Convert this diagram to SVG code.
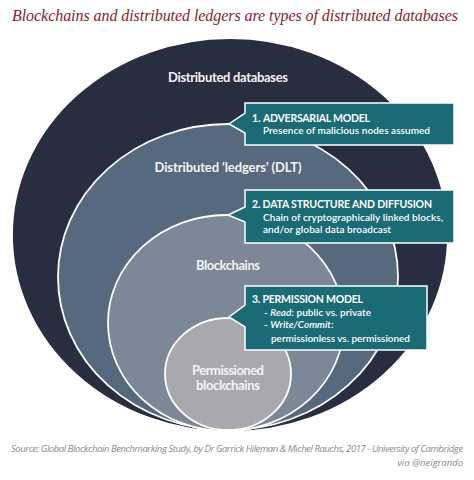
<svg xmlns="http://www.w3.org/2000/svg" width="474" height="480" viewBox="0 0 474 480">
<style>
.ring{stroke:#ffffff;stroke-width:1.8}
.lbl{font-family:Lato,"Open Sans","Liberation Sans",sans-serif;font-weight:bold;fill:#f4f4f4;text-anchor:middle}
.box{fill:#1b6b77;stroke:#ffffff;stroke-width:1.5}
.bh{font-family:Lato,"Open Sans","Liberation Sans",sans-serif;font-weight:bold;font-size:10.5px;fill:#ffffff}
.bt{font-family:Lato,"Open Sans","Liberation Sans",sans-serif;font-weight:600;font-size:10px;fill:#ffffff}
.src{font-family:"Open Sans","Liberation Sans",sans-serif;font-style:italic;font-size:9.5px;fill:#8a8a8a}
</style>
<rect width="474" height="480" fill="#ffffff"/>
<text x="12" y="21" font-family="'Liberation Serif',serif" font-style="italic" font-size="16" fill="#8b1a2e" textLength="446">Blockchains and distributed ledgers are types of distributed databases</text>
<g id="distributed-databases">
<ellipse class="ring" cx="230" cy="235" rx="218" ry="197" fill="#282d40"/>
<text class="lbl" x="228" y="82" font-size="13" textLength="120">Distributed databases</text>
</g>
<g id="dlt">
<ellipse class="ring" cx="228" cy="277" rx="170" ry="153" fill="#56697f"/>
<text class="lbl" x="228" y="172" font-size="13" textLength="147">Distributed ‘ledgers’ (DLT)</text>
</g>
<g id="blockchains">
<ellipse class="ring" cx="226" cy="323" rx="118" ry="108" fill="#7c8797"/>
<text class="lbl" x="228" y="270" font-size="13" textLength="64">Blockchains</text>
</g>
<g id="permissioned">
<ellipse class="ring" cx="228" cy="374" rx="63" ry="56" fill="#a9a9ad"/>
<text class="lbl" x="228" y="375" font-size="13" textLength="72">Permissioned</text>
<text class="lbl" x="228" y="390" font-size="13" textLength="64">blockchains</text>
</g>
<g id="connectors">
</g>
<g id="callout-1">
<path class="box" d="M245,103 H454 V145 H245 V133 L229,124 L245,113 Z"/>
<text class="bh" x="252" y="122">1.</text>
<text class="bh" x="263" y="122" textLength="107">ADVERSARIAL MODEL</text>
<text class="bt" x="263" y="134" textLength="167">Presence of malicious nodes assumed</text>
</g>
<g id="callout-2">
<path class="box" d="M245,190 H454 V243 H245 V222 L228,215 L245,207 Z"/>
<text class="bh" x="252" y="208" textLength="180">2. DATA STRUCTURE AND DIFFUSION</text>
<text class="bt" x="263" y="221" textLength="180">Chain of cryptographically linked blocks,</text>
<text class="bt" x="263" y="233" textLength="128">and/or global data broadcast</text>
</g>
<g id="callout-3">
<path class="box" d="M245,286 H427 V350 H245 V327 L229,317 L245,305 Z"/>
<text class="bh" x="252" y="303" textLength="111">3. PERMISSION MODEL</text>
<text class="bt" x="264" y="316" textLength="107">- <tspan font-style="italic">Read</tspan>: public vs. private</text>
<text class="bt" x="264" y="328"><tspan>- </tspan><tspan font-style="italic">Write/Commit</tspan>:</text>
<text class="bt" x="271" y="342" textLength="139">permissionless vs. permissioned</text>
</g>
<text class="src" x="11" y="452" textLength="452">Source: Global Blockchain Benchmarking Study, by Dr Garrick Hileman &amp; Michel Rauchs, 2017 - University of Cambridge</text>
<text class="src" x="463" y="466" text-anchor="end">via @neigrando</text>
</svg>
